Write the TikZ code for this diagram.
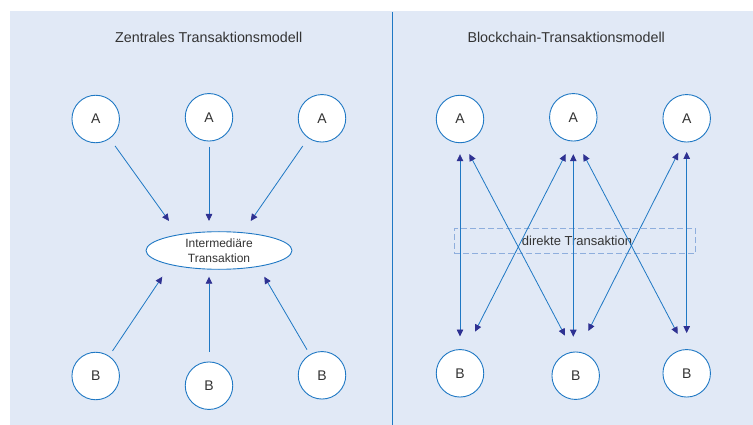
\documentclass[tikz,border=0pt]{standalone}
\usepackage{fontspec}
\setmainfont{Liberation Sans}
\usetikzlibrary{arrows.meta,shapes.geometric,calc}
\definecolor{bg}{HTML}{E1E9F6}
\definecolor{ln}{HTML}{1F78C4}
\definecolor{tipc}{HTML}{2E3192}
\definecolor{txt}{HTML}{333333}
\definecolor{dashc}{HTML}{8EAEDD}
\begin{document}
\begin{tikzpicture}[x=1pt,y=-1pt,
  title/.style={text=txt,font=\fontsize{14.3}{17}\selectfont,inner sep=0},
  circ/.style={circle,draw=ln,fill=white,line width=0.9pt,minimum size=47.5pt,inner sep=0,text=txt,font=\fontsize{14}{16}\selectfont},
  mtip/.tip={Triangle[length=7pt,width=6.5pt,color=tipc]},
  arr/.style={draw=ln,line width=0.8pt,-mtip},
  darr/.style={draw=ln,line width=0.8pt,mtip-mtip}]
\useasboundingbox (0,0) rectangle (753,425);
\fill[bg] (10,11) rectangle (753,425);
\draw[ln,line width=1pt] (392.3,12) -- (392.3,425);

% titles
\node[title] (tl) at (208.7,37.7) {Zentrales Transaktionsmodell};
\node[title] (tr) at (566.2,37.7) {Blockchain-Transaktionsmodell};

% left panel
\node[circ] (la1) at (95.7,119) {A};
\node[circ] (la2) at (209,117.3) {A};
\node[circ] (la3) at (322,118.3) {A};
\node[circ] (lb1) at (95.7,376) {B};
\node[circ] (lb2) at (209,385.7) {B};
\node[circ] (lb3) at (322,375.3) {B};
\node[ellipse,draw=ln,fill=white,line width=0.9pt,minimum width=146pt,minimum height=37.6pt,inner sep=0,
      align=center,text=txt,font=\fontsize{12}{15}\selectfont] (ell) at (219,250.5) {Intermedi\"are\\Transaktion};

\coordinate (t1) at (169,221);
\coordinate (t2) at (209,221);
\coordinate (t3) at (250.7,221);
\coordinate (t4) at (162.3,276.7);
\coordinate (t5) at (209,276.7);
\coordinate (t6) at (264.3,276.7);
\draw[arr,shorten <=9pt] (la1) -- (t1);
\draw[arr,shorten <=5.4pt] (la2) -- (t2);
\draw[arr,shorten <=9.5pt] (la3) -- (t3);
\draw[arr,shorten <=6pt] (lb1) -- (t4);
\draw[arr,shorten <=10pt] (lb2) -- (t5);
\draw[arr,shorten <=5.5pt] (lb3) -- (t6);

% right panel
\node[circ] (ra1) at (460,119) {A};
\node[circ] (ra2) at (573.3,117.3) {A};
\node[circ] (ra3) at (686.7,118.3) {A};
\node[circ] (rb1) at (460,373.3) {B};
\node[circ] (rb2) at (575.7,375.7) {B};
\node[circ] (rb3) at (686.7,373.3) {B};

\node[draw=dashc,dash pattern=on 6pt off 3pt,line width=1.2pt,minimum width=241.4pt,minimum height=25pt,inner sep=0,
      text=txt,font=\fontsize{13}{15}\selectfont] (dt) at (575,241.2) {\hspace{4pt}direkte Transaktion};

\draw[darr,shorten <=11pt,shorten >=12.6pt] (ra1) -- (rb1);
\draw[darr,shorten <=12.7pt,shorten >=39pt] (ra2) -- (ra2 |- rb2);
\draw[darr,shorten <=9.4pt,shorten >=16pt] (ra3) -- (rb3);

\coordinate (d1a) at ($(ra1)+(9.3,35)$);
\coordinate (d1b) at ($(rb2)+(-10.7,-40)$);
\coordinate (d2a) at ($(ra2)+(-7.6,36.7)$);
\coordinate (d2b) at ($(rb1)+(15,-41.6)$);
\coordinate (d3a) at ($(ra2)+(10,36.7)$);
\coordinate (d3b) at ($(rb3)+(-9,-39.3)$);
\coordinate (d4a) at ($(ra3)+(-8.4,34.4)$);
\coordinate (d4b) at ($(rb2)+(12.6,-44.7)$);
\draw[darr] (d1a) -- (d1b);
\draw[darr] (d2a) -- (d2b);
\draw[darr] (d3a) -- (d3b);
\draw[darr] (d4a) -- (d4b);
\end{tikzpicture}
\end{document}
